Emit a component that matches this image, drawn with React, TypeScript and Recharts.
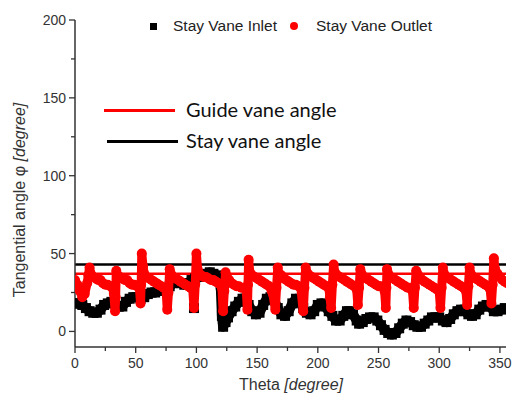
import React from "react"
import { ScatterChart, Scatter, XAxis, YAxis, ReferenceLine } from "recharts"

// Stay vane inlet (black squares)
const inletTheta = [
  0, 3, 6, 9, 12, 15, 18, 21, 24, 27, 30, 33, 36, 39, 42, 45, 48, 51, 54, 57,
  60, 63, 66, 69, 72, 75, 78, 81, 84, 87, 90, 93, 96, 99, 102, 105, 108, 111, 114, 117,
  119, 120, 121, 122, 124, 126, 129, 132, 135, 138, 140, 143, 146, 149, 152, 155, 158, 161, 164, 167,
  170, 173, 176, 179, 182, 185, 188, 191, 194, 197, 200, 203, 206, 209, 212, 215, 218, 221, 224, 226,
  229, 232, 234, 237, 240, 243, 246, 249, 252, 255, 258, 261, 264, 267, 270, 273, 276, 279, 282, 285,
  288, 291, 294, 297, 300, 303, 306, 309, 312, 315, 318, 321, 324, 327, 330, 333, 336, 339, 342, 345,
  348, 351, 354,
]
const inletAngle = [
  18, 18, 17, 15, 13, 12, 12, 14, 17, 18, 19, 18, 16, 16, 19, 21, 22, 22, 21, 22,
  24, 25, 25, 26, 27, 28, 29, 31, 32, 31, 30, 31, 33, 34, 35, 36, 37, 38, 37, 36,
  34, 30, 10, 3, 6, 9, 13, 16, 19, 21, 21, 17, 13, 11, 12, 17, 21, 22, 20, 15,
  11, 10, 13, 18, 21, 19, 15, 12, 11, 13, 17, 18, 16, 13, 10, 7, 7, 10, 13, 13,
  11, 7, 5, 6, 8, 9, 9, 7, 4, 1, -1, -2, -1, 2, 5, 7, 6, 4, 3, 3,
  5, 7, 9, 9, 9, 7, 6, 8, 11, 13, 14, 13, 11, 10, 11, 14, 16, 17, 16, 13,
  13, 14, 15,
]
const inletStrayTheta = [98]
const inletStrayAngle = [15]

// Stay vane outlet (red circles)
const outletTheta = [
  0, 2, 4, 6, 8, 10, 11, 12,
  13, 15, 17, 19, 21, 23, 25, 27, 29, 31, 32, 33, 33.5, 34,
  35, 37, 39, 41, 43, 45, 47, 49, 51, 53, 54, 54.5, 55,
  56, 57, 59, 61, 63, 65, 67, 69, 71, 73, 75, 76, 77, 78,
  79, 81, 83, 85, 87, 89, 91, 93, 95, 97, 98, 99, 100,
  101, 102, 104, 106, 108, 110, 112, 114, 116, 118, 120, 121, 122, 123, 124,
  125, 127, 129, 131, 133, 135, 137, 139, 141, 142, 142.5, 143,
  144, 146, 148, 150, 152, 154, 156, 158, 160, 162, 163, 165, 166, 167,
  168, 170, 172, 174, 176, 178, 180, 182, 184, 186, 188, 189, 190,
  191, 193, 195, 197, 199, 201, 203, 205, 207, 209, 210, 211, 212, 213,
  214, 216, 218, 220, 222, 224, 226, 228, 230, 232, 233, 234, 235,
  236, 238, 240, 242, 244, 246, 248, 250, 252, 254, 255, 256, 256.5, 257,
  258, 260, 262, 264, 266, 268, 270, 272, 274, 276, 278, 279, 280, 281,
  282, 284, 286, 288, 290, 292, 294, 296, 298, 300, 301, 302, 303,
  304, 306, 308, 310, 312, 314, 316, 318, 320, 322, 323, 324, 325,
  326, 328, 330, 332, 334, 336, 338, 340, 342, 343, 344, 345,
  346, 348, 350, 352, 354, 356,
]
const outletAngle = [
  33, 30, 26, 22, 24, 31, 36, 41,
  37, 35, 34, 33, 33, 31, 30, 30, 29, 28, 24, 13, 22, 39,
  36, 35, 34, 33, 33, 31, 30, 30, 29, 28, 18, 30, 50,
  42, 37, 35, 34, 33, 32, 31, 30, 29, 28, 27, 14, 25, 40,
  37, 35, 34, 33, 32, 31, 30, 29, 28, 27, 15, 30, 50,
  40, 37, 36, 35, 35, 34, 33, 33, 32, 31, 30, 28, 13, 26, 38,
  35, 33, 31, 30, 29, 29, 28, 28, 27, 14, 30, 46,
  38, 36, 35, 34, 33, 32, 31, 30, 29, 26, 24, 14, 28, 41,
  37, 36, 34, 33, 32, 31, 30, 30, 29, 28, 13, 28, 41,
  38, 36, 35, 34, 33, 32, 31, 30, 29, 28, 22, 15, 30, 43,
  38, 36, 35, 34, 33, 32, 31, 30, 29, 27, 17, 28, 40,
  37, 35, 34, 33, 32, 31, 30, 29, 29, 28, 26, 15, 28, 40,
  37, 35, 34, 33, 32, 31, 30, 29, 28, 28, 26, 15, 28, 39,
  37, 35, 33, 32, 31, 30, 29, 28, 27, 26, 15, 28, 41,
  37, 35, 34, 33, 32, 31, 30, 29, 28, 26, 17, 29, 41,
  37, 35, 34, 33, 32, 31, 30, 29, 27, 18, 30, 47,
  40, 37, 35, 33, 32, 31,
]

const guideVaneAngle = 37
const stayVaneAngle = 43

const xTicks = [0, 25, 50, 75, 100, 125, 150, 175, 200, 225, 250, 275, 300, 325, 350]
const yTicks = [0, 25, 50, 75, 100, 125, 150, 175, 200]

const zip = (t: number[], v: number[]) => t.map((theta, i) => ({ theta, angle: v[i] }))

const inlet = zip(inletTheta, inletAngle)
const inletStray = zip(inletStrayTheta, inletStrayAngle)
const outlet = zip(outletTheta, outletAngle)

const font = "'Liberation Sans', Arial, sans-serif"
const axisColor = "#333"

const Square = (p: any) => <rect x={p.cx - 5} y={p.cy - 5} width={10} height={10} fill="#000" />
const Dot = (p: any) => <circle cx={p.cx} cy={p.cy} r={5} fill="#ff0000" />

const XTick = ({ x, y, payload }: any) => {
  const major = payload.value % 50 === 0
  return (
    <g>
      <line x1={x} x2={x} y1={y} y2={y + (major ? 6 : 4)} stroke={axisColor} strokeWidth={1.3} />
      {major && (
        <text x={x} y={y + 21} textAnchor="middle" fontSize={14} fontFamily={font} fill={axisColor}>
          {payload.value}
        </text>
      )}
    </g>
  )
}

const YTick = ({ x, y, payload }: any) => {
  const major = payload.value % 50 === 0
  return (
    <g>
      <line x1={x - (major ? 6 : 4)} x2={x} y1={y} y2={y} stroke={axisColor} strokeWidth={1.3} />
      {major && (
        <text x={x - 9} y={y + 5} textAnchor="end" fontSize={14} fontFamily={font} fill={axisColor}>
          {payload.value}
        </text>
      )}
    </g>
  )
}

export default function App() {
  return (
    <div style={{ position: "absolute", left: 0, top: 0, width: 517, height: 400, background: "#fff", fontFamily: font }}>
      <ScatterChart width={517} height={400} margin={{ top: 20, right: 11, bottom: 23, left: 15 }}>
        <XAxis
          type="number"
          dataKey="theta"
          domain={[0, 355]}
          ticks={xTicks}
          interval={0}
          allowDataOverflow
          height={30}
          tickSize={0}
          tickMargin={0}
          tickLine={false}
          tick={<XTick />}
          axisLine={{ stroke: axisColor, strokeWidth: 1.5 }}
        />
        <YAxis
          type="number"
          dataKey="angle"
          domain={[-10, 200]}
          ticks={yTicks}
          interval={0}
          allowDataOverflow
          width={60}
          tickSize={0}
          tickMargin={0}
          tickLine={false}
          tick={<YTick />}
          axisLine={{ stroke: axisColor, strokeWidth: 1.5 }}
        />
        <Scatter
          name="Stay Vane Inlet"
          data={inlet}
          shape={Square}
          line={{ stroke: "#000", strokeWidth: 10, strokeLinejoin: "round" }}
          lineType="joint"
          isAnimationActive={false}
        />
        <Scatter name="Stay Vane Inlet" data={inletStray} shape={Square} isAnimationActive={false} />
        <Scatter
          name="Stay Vane Outlet"
          data={outlet}
          shape={Dot}
          line={{ stroke: "#ff0000", strokeWidth: 9, strokeLinejoin: "round", strokeLinecap: "round" }}
          lineType="joint"
          isAnimationActive={false}
        />
        <ReferenceLine y={stayVaneAngle} stroke="#000" strokeWidth={2.5} />
        <ReferenceLine y={guideVaneAngle} stroke="#ff0000" strokeWidth={2.5} />
      </ScatterChart>

      {/* top legend */}
      <div style={{ position: "absolute", left: 150, top: 17, display: "flex", alignItems: "center", fontSize: 15.5, color: "#222", whiteSpace: "nowrap" }}>
        <span style={{ width: 7, height: 7, background: "#000", display: "inline-block" }} />
        <span style={{ marginLeft: 16 }}>Stay Vane Inlet</span>
        <span style={{ width: 8, height: 8, borderRadius: 4, background: "#ff0000", display: "inline-block", marginLeft: 13 }} />
        <span style={{ marginLeft: 18 }}>Stay Vane Outlet</span>
      </div>

      {/* angle legend inside plot */}
      <div style={{ position: "absolute", left: 104, top: 109, width: 71, height: 3, background: "#ff0000" }} />
      <div style={{ position: "absolute", left: 186, top: 97, fontFamily: "Lato, sans-serif", fontSize: 20, color: "#111", whiteSpace: "nowrap" }}>
        Guide vane angle
      </div>
      <div style={{ position: "absolute", left: 107, top: 140, width: 71, height: 3, background: "#000" }} />
      <div style={{ position: "absolute", left: 186, top: 128, fontFamily: "Lato, sans-serif", fontSize: 20, color: "#111", whiteSpace: "nowrap" }}>
        Stay vane angle
      </div>

      {/* axis titles */}
      <div style={{ position: "absolute", left: 0, top: 376, width: 582, textAlign: "center", fontSize: 16, color: axisColor, whiteSpace: "nowrap" }}>
        Theta <i>[degree]</i>
      </div>
      <div
        style={{
          position: "absolute",
          left: 20,
          top: 200,
          transform: "translate(-50%, -50%) rotate(-90deg)",
          fontSize: 16,
          color: axisColor,
          whiteSpace: "nowrap",
        }}
      >
        Tangential angle φ <i>[degree]</i>
      </div>
    </div>
  )
}
